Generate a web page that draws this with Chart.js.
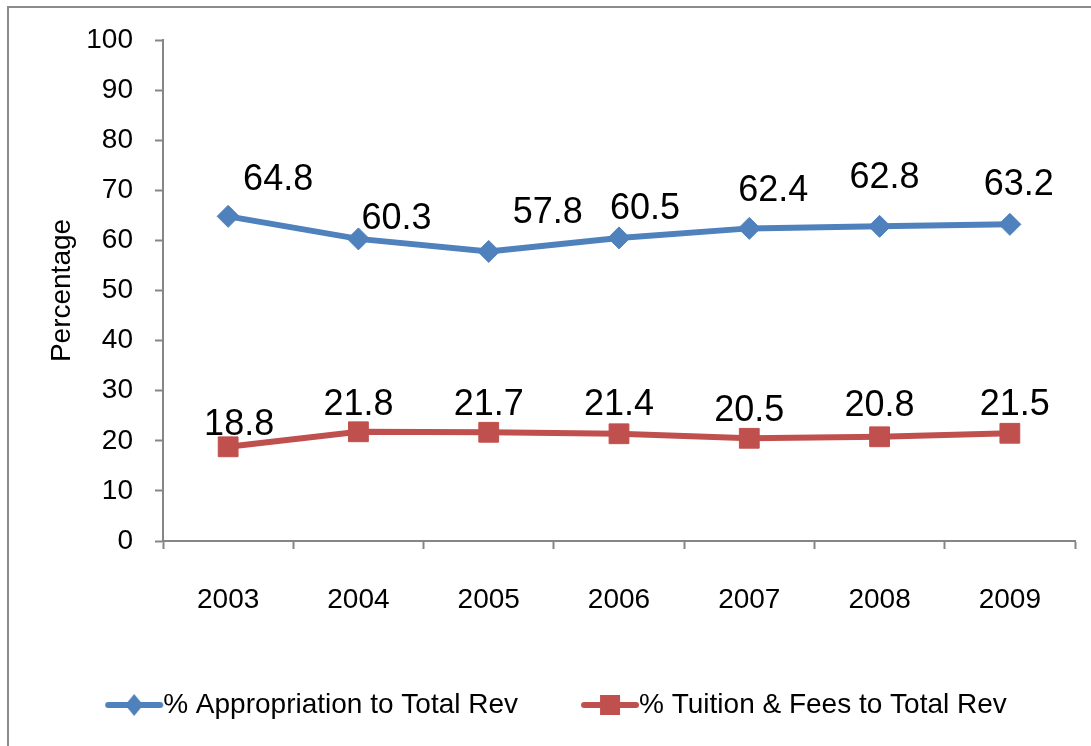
<!DOCTYPE html>
<html>
<head>
<meta charset="utf-8">
<script src="https://cdn.jsdelivr.net/npm/chart.js@4"></script>
<style>
  html, body { margin: 0; padding: 0; background: #fff; overflow: hidden; }
  #wrap { position: absolute; left: 0; top: 0; width: 1091px; height: 746px; }
  #frame { position: absolute; left: 7px; top: 6px; width: 1100px; height: 760px; border: 2px solid #8c8c8c; }
</style>
</head>
<body>
<div id="frame"></div>
<div id="wrap"><canvas id="myChart" width="1091" height="746"></canvas></div>
<script>
// chart data
const years = ['2003', '2004', '2005', '2006', '2007', '2008', '2009']
const appropriation = [64.8, 60.3, 57.8, 60.5, 62.4, 62.8, 63.2]
const tuition = [18.8, 21.8, 21.7, 21.4, 20.5, 20.8, 21.5]
const seriesNames = ['% Appropriation to Total Rev', '% Tuition & Fees to Total Rev']
const yTicks = [0, 10, 20, 30, 40, 50, 60, 70, 80, 90, 100]

const blue = '#4F81BD'
const red = '#C0504D'
const grey = '#868686'
const font = "'Liberation Sans', Arial, sans-serif"

// label nudges (dx, dy in px from each point), like the hand placed excel labels
const blueNudge = [[50, -36], [38, -20], [59, -38], [26, -29], [24, -37], [5, -48], [9, -39]]
const redNudge = [[11, -22], [0, -27], [0, -27], [0, -29], [0, -27], [0, -31], [5, -28]]

// legend swatch: a bit of line with the marker on it
// (canvas is wider than the box, swatch sits right of centre so it hugs the text)
function swatch(color, shape) {
    const c = document.createElement('canvas')
    c.width = 80
    c.height = 26
    const g = c.getContext('2d')
    const mid = 50
    g.strokeStyle = color
    g.lineWidth = 6
    g.lineCap = 'round'
    g.beginPath()
    g.moveTo(mid - 26, 13)
    g.lineTo(mid + 26, 13)
    g.stroke()
    g.fillStyle = color
    if (shape == 'diamond') {
        g.beginPath()
        g.moveTo(mid, 2)
        g.lineTo(mid + 9, 13)
        g.lineTo(mid, 24)
        g.lineTo(mid - 9, 13)
        g.closePath()
        g.fill()
    } else {
        g.fillRect(mid - 10, 3, 20, 20)
    }
    return c
}
const swatches = [swatch(blue, 'diamond'), swatch(red, 'square')]

const valueLabels = {
    id: 'valueLabels',
    afterDatasetsDraw(chart) {
        const ctx = chart.ctx
        const nudges = [blueNudge, redNudge]
        ctx.save()
        ctx.font = '36px ' + font
        ctx.fillStyle = '#000'
        ctx.textAlign = 'center'
        ctx.textBaseline = 'middle'
        chart.data.datasets.forEach((ds, i) => {
            const meta = chart.getDatasetMeta(i)
            meta.data.forEach((pt, j) => {
                const n = nudges[i][j]
                ctx.fillText(ds.data[j].toFixed(1), pt.x + n[0], pt.y + n[1])
            })
        })
        ctx.restore()
    }
}

const ctx = document.getElementById('myChart')

new Chart(ctx, {
    type: 'line',
    data: {
        labels: years,
        datasets: [{
            label: seriesNames[0],
            data: appropriation,
            borderColor: blue,
            backgroundColor: blue,
            borderWidth: 6,
            pointStyle: 'rectRot',
            pointRadius: 11,
            pointBorderWidth: 1,
            pointBackgroundColor: blue,
            pointBorderColor: blue,
            tension: 0
        }, {
            label: seriesNames[1],
            data: tuition,
            borderColor: red,
            backgroundColor: red,
            borderWidth: 6,
            pointStyle: 'rect',
            pointRadius: 14,
            pointBorderWidth: 1,
            pointBackgroundColor: red,
            pointBorderColor: red,
            tension: 0
        }]
    },
    options: {
        responsive: false,
        animation: false,
        layout: {
            padding: { left: 31, right: 16, top: 40, bottom: 25 }
        },
        scales: {
            x: {
                offset: true,
                grid: {
                    offset: true,
                    drawOnChartArea: false,
                    tickLength: 8,
                    tickColor: grey,
                    tickWidth: 2
                },
                border: { color: grey, width: 2 },
                ticks: {
                    color: '#000',
                    padding: 34,
                    maxRotation: 0,
                    font: { family: font, size: 28 }
                },
                afterFit(scale) { scale.height = 93 }
            },
            y: {
                min: 0,
                max: 100,
                afterBuildTicks(scale) { scale.ticks = yTicks.map(v => ({ value: v })) },
                grid: {
                    drawOnChartArea: false,
                    tickLength: 8,
                    tickColor: grey,
                    tickWidth: 2
                },
                border: { color: grey, width: 2 },
                ticks: {
                    color: '#000',
                    padding: 22,
                    font: { family: font, size: 28 }
                },
                title: {
                    display: true,
                    text: 'Percentage',
                    color: '#000',
                    padding: { top: 14, bottom: 0 },
                    font: { family: font, size: 28 }
                },
                afterFit(scale) { scale.width = 132 }
            }
        },
        plugins: {
            legend: {
                position: 'bottom',
                maxHeight: 87,
                labels: {
                    usePointStyle: true,
                    pointStyleWidth: 50,
                    padding: 57,
                    color: '#000',
                    font: { family: font, size: 28 },
                    generateLabels(chart) {
                        const items = Chart.defaults.plugins.legend.labels.generateLabels(chart)
                        items.forEach((it, i) => { it.pointStyle = swatches[i] })
                        return items
                    }
                }
            },
            tooltip: { enabled: false }
        }
    },
    plugins: [valueLabels]
})
</script>
</body>
</html>
